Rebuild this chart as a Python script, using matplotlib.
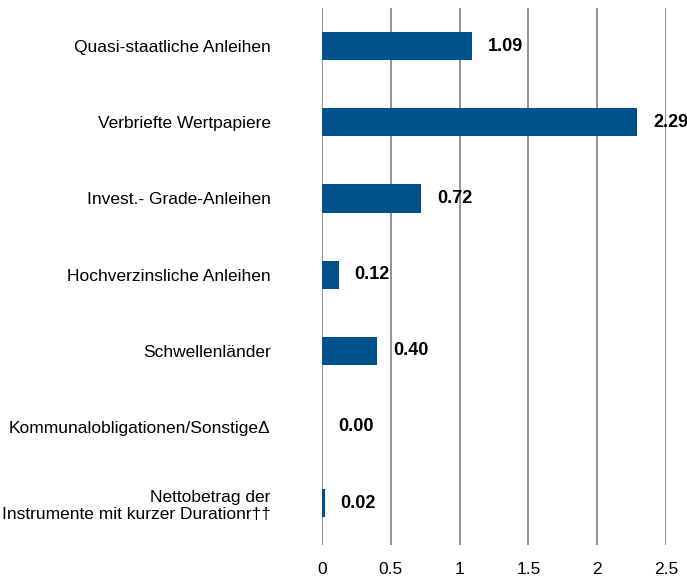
import numpy as np
import matplotlib.pyplot as plt

plt.rcParams['font.family'] = ['Liberation Sans', 'DejaVu Sans']

categories = [
    'Quasi-staatliche Anleihen',
    'Verbriefte Wertpapiere',
    'Invest.- Grade-Anleihen',
    'Hochverzinsliche Anleihen',
    'Schwellenländer',
    'Kommunalobligationen/Sonstige\u0394',
    'Nettobetrag der\nInstrumente mit kurzer Durationr\u2020\u2020',
]
values = [1.09, 2.29, 0.72, 0.12, 0.40, 0.00, 0.02]
xticks = [0, 0.5, 1, 1.5, 2, 2.5]
xtick_labels = ['0', '0.5', '1', '1.5', '2', '2.5']

fig = plt.figure(figsize=(6.87, 5.79), dpi=100)
ax = fig.add_axes([322 / 687, 34 / 579, 344 / 687, 537 / 579])

y = np.arange(len(categories))
ax.barh(y, values, height=0.37, color='#00538a', linewidth=0, zorder=3)

for yi, v in zip(y, values):
    ax.text(v + 0.115, yi, f'{v:.2f}', va='center', ha='left', fontsize=13,
            fontweight='bold', family=['Liberation Sans Narrow', 'Liberation Sans'],
            clip_on=False, zorder=4)

ax.set_xlim(0, 2.5)
ax.set_ylim(len(categories) - 0.45, -0.5)
ax.set_xticks(xticks)
ax.set_xticklabels(xtick_labels, fontsize=12.5)
ax.set_yticks(y)
ax.set_yticklabels(categories, fontsize=12.5, ha='right')
ax.tick_params(axis='x', length=0, pad=12)
ax.tick_params(axis='y', length=0, pad=37)

for s in ax.spines.values():
    s.set_visible(False)
ax.grid(axis='x', color='#7f7f7f', linewidth=1.2, zorder=0)
ax.set_axisbelow(True)

fig.savefig('out.png', dpi=100)
